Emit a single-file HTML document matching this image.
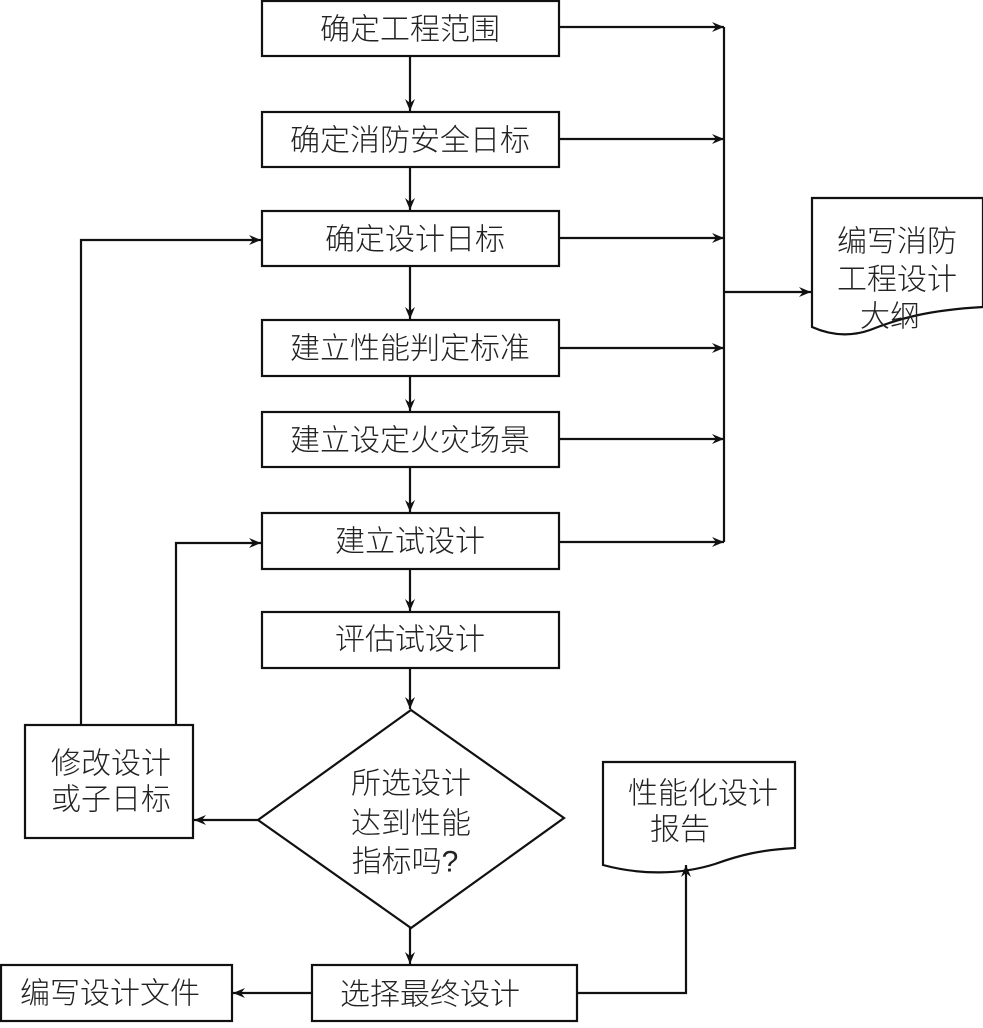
<!DOCTYPE html>
<html><head><meta charset="utf-8"><style>
html,body{margin:0;padding:0;background:#fff;}
svg text{font-family:"Liberation Sans","Noto Sans CJK SC",sans-serif;font-size:30px;font-weight:300;fill:#222;text-anchor:middle;dominant-baseline:central;}
</style></head><body>
<svg width="983" height="1023" viewBox="0 0 983 1023" xmlns="http://www.w3.org/2000/svg">
<defs><marker id="a" viewBox="0 0 12 10" refX="12" refY="5" markerWidth="12" markerHeight="10" markerUnits="userSpaceOnUse" orient="auto"><path d="M0,0 L12,5 L0,10 L4,5 Z" fill="#111"/></marker></defs>
<g fill="none" stroke="#111" stroke-width="2.2">
<rect x="262" y="1" width="297" height="55"/>
<rect x="262" y="112" width="297" height="55"/>
<rect x="262" y="211" width="297" height="55"/>
<rect x="262" y="320" width="297" height="56"/>
<rect x="262" y="412" width="297" height="55"/>
<rect x="262" y="513" width="297" height="56"/>
<rect x="262" y="612" width="297" height="56"/>
<rect x="25" y="725" width="168" height="113"/>
<rect x="312" y="965" width="265" height="56"/>
<rect x="1" y="965" width="231" height="56"/>
<polygon points="411,710 564,818 411,928 258,820"/>
<path d="M812,198 L983,198 L983,307 C930,310 900,318 870,330 C850,337 830,335 812,327 Z"/>
<path d="M603,762 L795,762 L795,848 C760,850 740,855 715,864 C680,875 640,875 603,865 Z"/>
<g marker-end="url(#a)">
<line x1="410" y1="56" x2="410" y2="111"/>
<line x1="410" y1="167" x2="410" y2="210"/>
<line x1="410" y1="266" x2="410" y2="319"/>
<line x1="410" y1="376" x2="410" y2="411"/>
<line x1="410" y1="467" x2="410" y2="512"/>
<line x1="410" y1="569" x2="410" y2="611"/>
<line x1="410" y1="668" x2="410" y2="709"/>
<line x1="410" y1="928" x2="410" y2="964"/>
<line x1="559" y1="27" x2="724" y2="27"/>
<line x1="559" y1="139" x2="724" y2="139"/>
<line x1="559" y1="238" x2="724" y2="238"/>
<line x1="559" y1="348" x2="724" y2="348"/>
<line x1="559" y1="439" x2="724" y2="439"/>
<line x1="559" y1="542" x2="724" y2="542"/>
<line x1="724" y1="292" x2="811" y2="292"/>
<line x1="258" y1="820" x2="194" y2="820"/>
<line x1="312" y1="993" x2="233" y2="993"/>
<polyline points="577,993 686,993 686,865"/>
<polyline points="81,725 81,240 261,240"/>
<polyline points="176,725 176,543 261,543"/>
</g>
<line x1="724" y1="27" x2="724" y2="542"/>
</g>
<text x="410" y="30">确定工程范围</text>
<text x="410" y="141">确定消防安全日标</text>
<text x="415" y="240">确定设计日标</text>
<text x="410" y="349">建立性能判定标准</text>
<text x="410" y="441">建立设定火灾场景</text>
<text x="410" y="542">建立试设计</text>
<text x="410" y="640">评估试设计</text>
<text x="111" y="764">修改设计</text>
<text x="111" y="800">或子日标</text>
<text x="411" y="784">所选设计</text>
<text x="411" y="824">达到性能</text>
<text x="405" y="862">指标吗?</text>
<text x="430" y="995">选择最终设计</text>
<text x="110" y="994">编写设计文件</text>
<text x="897" y="242">编写消防</text>
<text x="897" y="280">工程设计</text>
<text x="890" y="317">大纲</text>
<text x="703" y="794">性能化设计</text>
<text x="680" y="830">报告</text>
</svg>
</body></html>
